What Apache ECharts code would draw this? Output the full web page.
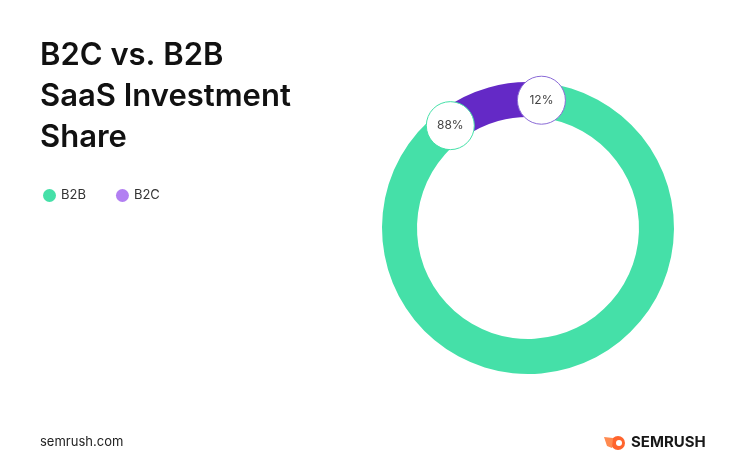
<!DOCTYPE html>
<html><head><meta charset="utf-8">
<script src="https://cdn.jsdelivr.net/npm/echarts@6/dist/echarts.min.js"></script>
<style>html,body{margin:0;padding:0;background:#fff}#c{width:750px;height:465px}</style>
</head><body><div id="c"></div>
<script>
const categories = ['B2C', 'B2B'];
const values = [12, 88];
const legendOrder = ['B2B', 'B2C'];
const colors = {B2B: '#45e0a8', B2C: '#6429c6'};
const legendColors = {B2B: '#45e0a8', B2C: '#b27ff2'};

const cx = 528, cy = 228, rIn = 111, rOut = 146;
const endAngle = 84; // clockwise end of first slice
const total = values.reduce((a, b) => a + b, 0);
const startAngle = endAngle + values[0] / total * 360;

const graphics = [];
let acc = startAngle;
categories.forEach((c, i) => {
  acc -= values[i] / total * 360;
  const a = acc * Math.PI / 180, rm = (rIn + rOut) / 2;
  const x = cx + rm * Math.cos(a), y = cy - rm * Math.sin(a);
  graphics.push({type: 'circle', shape: {cx: x, cy: y, r: 24}, z: 10,
    style: {fill: '#fff', stroke: i === 0 ? '#8a6ad6' : '#45e0a8', lineWidth: 1}});
  graphics.push({type: 'text', x: x, y: y, z: 11,
    style: {text: values[i] + '%', fill: '#444', font: '12px Inter', align: 'center', verticalAlign: 'middle'}});
});
const texts = [
  {type: 'text', left: 40, top: 35, style: {text: 'B2C vs. B2B\nSaaS Investment\nShare', fill: '#111', font: '600 31px Inter', lineHeight: 41}},
  {type: 'text', left: 40, top: 436, style: {text: 'semrush.com', fill: '#222', font: '13px Inter'}},
  {type: 'circle', shape: {cx: 618, cy: 443, r: 7}, style: {fill: '#ff642d'}},
  {type: 'circle', shape: {cx: 619, cy: 443, r: 3}, style: {fill: '#fff'}},
  {type: 'polygon', shape: {points: [[604, 437], [613, 438], [612, 448], [607, 446]]}, style: {fill: '#ff8a50'}},
  {type: 'text', left: 631, top: 435, style: {text: 'SEMRUSH', fill: '#181818', font: '700 15px Inter'}}
];

const chart = echarts.init(document.getElementById('c'));
chart.setOption({
  animation: false,
  color: categories.map(c => colors[c]),
  legend: {data: legendOrder.map(n => ({name: n, itemStyle: {color: legendColors[n]}})),
    left: 38, top: 184, icon: 'circle', itemWidth: 13, itemHeight: 13, itemGap: 30,
    textStyle: {fontFamily: 'Inter', fontSize: 13, color: '#333'}},
  graphic: texts.concat(graphics),
  series: [{type: 'pie', center: [cx, cy], radius: [rIn, rOut], startAngle: startAngle,
    clockwise: true, label: {show: false}, labelLine: {show: false}, silent: true,
    data: categories.map((c, i) => ({name: c, value: values[i], itemStyle: {color: colors[c]}}))}]
});
</script></body></html>
